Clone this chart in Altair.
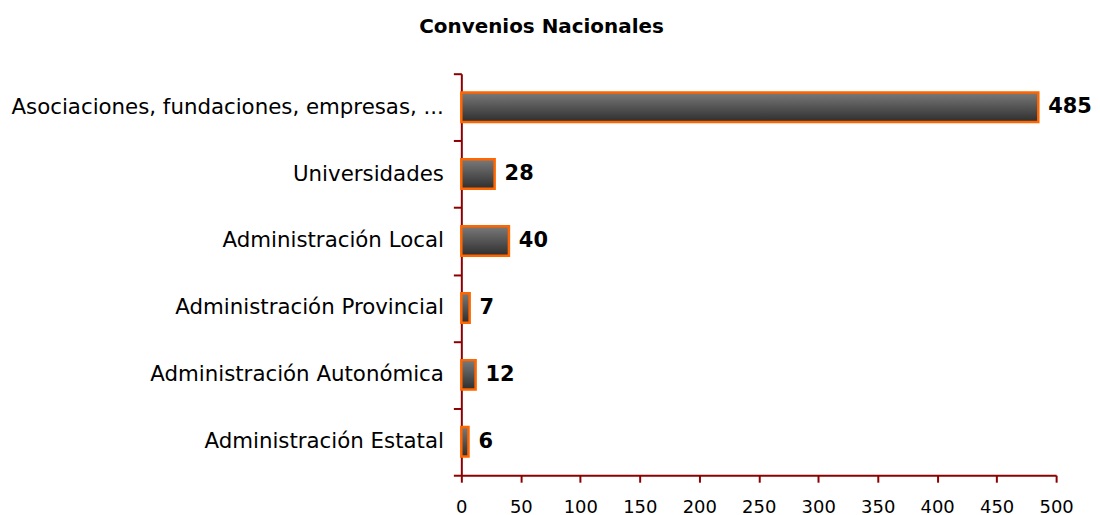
import altair as alt
import pandas as pd

categories = [
    "Asociaciones, fundaciones, empresas, ...",
    "Universidades",
    "Administración Local",
    "Administración Provincial",
    "Administración Autonómica",
    "Administración Estatal",
]
values = [485, 28, 40, 7, 12, 6]
x_ticks = [0, 50, 100, 150, 200, 250, 300, 350, 400, 450, 500]

df = pd.DataFrame({"cat": categories, "val": values})

AXIS_COLOR = "#8B0000"
FONT = "DejaVu Sans"

y_enc = alt.Y(
    "cat:N",
    sort=categories,
    title=None,
    scale=alt.Scale(paddingInner=0, paddingOuter=0),
    axis=alt.Axis(
        tickBand="extent",
        domainColor=AXIS_COLOR,
        tickColor=AXIS_COLOR,
        domainWidth=2,
        tickWidth=2,
        tickSize=8,
        labelPadding=10,
        labelFont=FONT,
        labelFontSize=21.4,
        labelColor="#000000",
        labelLimit=600,
    ),
)

x_enc = alt.X(
    "val:Q",
    title=None,
    scale=alt.Scale(domain=[0, 500], nice=False),
    axis=alt.Axis(
        values=x_ticks,
        grid=False,
        labelFlush=False,
        domainColor=AXIS_COLOR,
        tickColor=AXIS_COLOR,
        domainWidth=2,
        tickWidth=2,
        tickSize=7,
        labelPadding=16,
        labelFont=FONT,
        labelFontSize=18,
        labelColor="#000000",
    ),
)

bars = alt.Chart(df).mark_bar(
    height=alt.RelativeBandSize(0.44),
    color=alt.Gradient(
        gradient="linear",
        stops=[
            alt.GradientStop(color="#7a7a7a", offset=0),
            alt.GradientStop(color="#2e2e2e", offset=1),
        ],
        x1=0, x2=0, y1=0, y2=1,
    ),
    stroke="#FF6600",
    strokeWidth=2.5,
).encode(x=x_enc, y=y_enc)

labels = alt.Chart(df).mark_text(
    align="left",
    baseline="middle",
    dx=10,
    font=FONT,
    fontSize=21,
    fontWeight="bold",
    color="#000000",
).encode(x="val:Q", y=alt.Y("cat:N", sort=categories), text="val:Q")

chart = (
    alt.layer(bars, labels)
    .properties(
        width=597,
        height=403,
        title=alt.TitleParams(
            "Convenios Nacionales",
            font=FONT,
            fontSize=20,
            fontWeight="bold",
            color="#000000",
            anchor="middle",
            dx=-218,
            offset=26,
        ),
        padding={"left": 455, "top": 65, "right": 36, "bottom": 46},
        autosize=alt.AutoSizeParams(type="none"),
    )
    .configure_view(stroke=None)
)

chart.save("out.html", embed_options={"renderer": "svg", "actions": False})
